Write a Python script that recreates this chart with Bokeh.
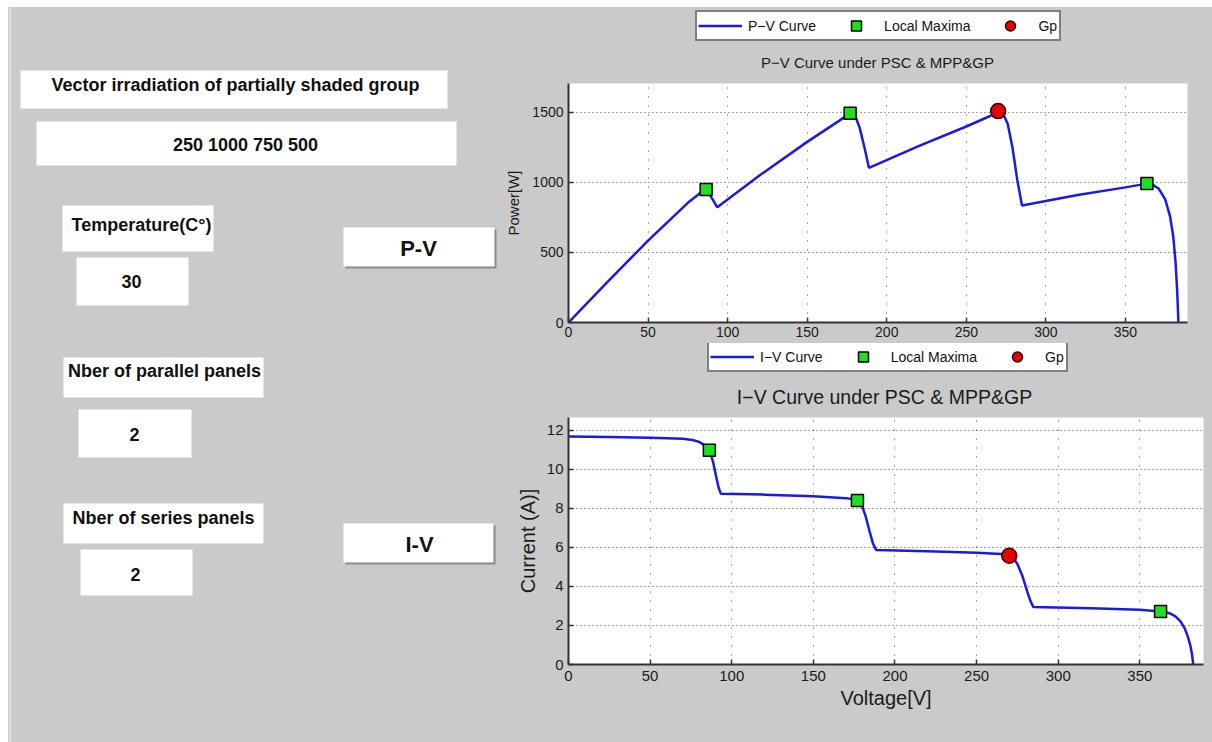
from bokeh.plotting import figure
from bokeh.models import (Range1d, FixedTicker, Legend, LegendItem, Label, Spacer)
from bokeh.layouts import row, column
from bokeh.embed import file_html
from bokeh.resources import INLINE
from bokeh.core.properties import value

# ---------------- data ----------------
pv_voltage = [0, 25, 50, 75, 80, 84, 86.5, 90, 93.5, 120, 150, 170, 177, 180, 183, 186,
              188.8, 220, 250, 265, 270, 273, 276, 279, 282, 285, 320, 350, 363.5, 367,
              371, 375, 378, 380, 381.5, 382.5, 383.3]
pv_power = [0, 295, 585, 855, 900, 935, 950, 890, 823, 1050, 1290, 1440, 1495, 1480, 1390,
            1250, 1105, 1260, 1400, 1475, 1510, 1495, 1420, 1250, 1020, 836, 910, 965, 992,
            985, 955, 880, 760, 620, 430, 230, 0]
pv_max_v = [86.5, 177, 363.5]
pv_max_p = [950, 1495, 992]
pv_gp_v = [270]
pv_gp_p = [1510]

iv_voltage = [0, 25, 50, 70, 76, 80, 83, 86.3, 88.5, 90.5, 92, 93.3, 120, 150, 170, 177,
              179.5, 182, 184.5, 186.5, 188.4, 220, 250, 265, 270, 272.5, 275, 278, 281,
              283, 284.7, 320, 350, 362.7, 366, 369, 372, 375, 377.5, 379.5, 381, 382,
              382.7]
iv_current = [11.68, 11.65, 11.61, 11.56, 11.5, 11.4, 11.25, 10.97, 10.4, 9.6, 9.05, 8.75,
              8.7, 8.62, 8.52, 8.42, 8.2, 7.6, 6.8, 6.2, 5.87, 5.8, 5.72, 5.66, 5.57, 5.45,
              5.15, 4.55, 3.75, 3.25, 2.95, 2.88, 2.8, 2.72, 2.68, 2.6, 2.45, 2.2, 1.85,
              1.4, 0.95, 0.5, 0]
iv_max_v = [86.3, 177, 362.7]
iv_max_i = [10.97, 8.4, 2.72]
iv_gp_v = [270]
iv_gp_i = [5.57]

voltage_ticks = [0, 50, 100, 150, 200, 250, 300, 350]
power_ticks = [0, 500, 1000, 1500]
current_ticks = [0, 2, 4, 6, 8, 10, 12]

legend_pv = ["P\u2212V Curve", "Local Maxima", "Gp"]
legend_iv = ["I\u2212V Curve", "Local Maxima", "Gp"]
title_pv = "P\u2212V Curve under PSC & MPP&GP"
title_iv = "I\u2212V Curve under PSC & MPP&GP"

ui_labels = ["Vector irradiation of partially shaded group", "Temperature(C\u00b0)",
             "Nber of parallel panels", "Nber of series panels"]
ui_values = ["250 1000 750 500", "30", "2", "2"]
ui_buttons = ["P-V", "I-V"]

# ---------------- styles / geometry of the GUI ----------------
GRAY = "#cacaca"
FONT = "Liberation Sans"
BLUE = "#1a1ae0"
GREEN = "#1ee01e"
RED = "#e60000"

label_box = dict(l=[20, 62, 63, 63], r=[447, 213, 263, 263], t=[70, 205, 357, 503],
                 b=[108, 251, 397, 543], tx=[235, 141, 164, 163], ty=[84, 224, 370, 517])
value_box = dict(l=[36, 76, 78, 80], r=[456, 188, 191, 192], t=[121, 257, 409, 549],
                 b=[165, 305, 457, 595], tx=[245, 131, 134, 135], ty=[144, 281, 434, 574])
button_box = dict(l=[343, 343], r=[494, 493], t=[227, 523], b=[266, 562],
                  tx=[418, 419], ty=[248, 544])

# ---------------- left GUI panel ----------------
left = figure(width=492, height=735, x_range=Range1d(8, 500), y_range=Range1d(742, 7),
              x_axis_type=None, y_axis_type=None, toolbar_location=None,
              output_backend="svg", min_border=0, outline_line_color=None,
              background_fill_color=GRAY, border_fill_color=GRAY)
left.grid.visible = False
left.quad(left=[8], right=[11], top=[7], bottom=[742], fill_color="#dadada", line_color=None)

for box, texts in ((label_box, ui_labels), (value_box, ui_values)):
    left.quad(left=box["l"], right=box["r"], top=box["t"], bottom=box["b"],
              fill_color="white", line_color=None)
    left.text(x=box["tx"], y=box["ty"], text=texts, text_align="center",
              text_baseline="middle", text_font=value(FONT), text_font_style="bold",
              text_font_size="18px", text_color="#111111")

left.quad(left=[v + 2 for v in button_box["l"]], right=[v + 2 for v in button_box["r"]],
          top=[v + 2 for v in button_box["t"]], bottom=[v + 2 for v in button_box["b"]],
          fill_color="#8a8a8a", line_color=None)
left.quad(left=button_box["l"], right=button_box["r"], top=button_box["t"],
          bottom=button_box["b"], fill_color="white", line_color=None)
left.text(x=button_box["tx"], y=button_box["ty"], text=ui_buttons, text_align="center",
          text_baseline="middle", text_font=value(FONT), text_font_style="bold",
          text_font_size="22px", text_color="#111111")


# ---------------- plots ----------------
def draw_series(p, xs, ys, mx, my, gx, gy):
    r_line = p.line(xs, ys, line_color=BLUE, line_width=2.5)
    r_sq = p.scatter(mx, my, marker="square", size=12, fill_color=GREEN,
                     line_color="black", line_width=1.5)
    r_gp = p.scatter(gx, gy, marker="circle", size=15, fill_color=RED,
                     line_color="#300000", line_width=1.5)
    return r_line, r_sq, r_gp


def style_plot(p, tick_size, label_size, y_ticks, std_x):
    p.xaxis.ticker = FixedTicker(ticks=voltage_ticks)
    p.yaxis.ticker = FixedTicker(ticks=y_ticks)
    for ax in (p.xaxis[0], p.yaxis[0]):
        ax.axis_line_color = "#333333"
        ax.axis_line_width = 2
        ax.major_tick_line_color = "#333333"
        ax.major_tick_line_width = 1.5
        ax.major_tick_in = 5
        ax.major_tick_out = 0
        ax.minor_tick_in = 0
        ax.minor_tick_out = 0
        ax.major_label_text_font = FONT
        ax.major_label_text_font_size = tick_size
        ax.major_label_text_color = "#1a1a1a"
        ax.axis_label_text_font = FONT
        ax.axis_label_text_font_size = label_size
        ax.axis_label_text_font_style = "normal"
        ax.axis_label_text_color = "#1a1a1a"
    p.xaxis.major_label_standoff = std_x
    p.yaxis.major_label_standoff = 5
    p.xgrid.grid_line_color = "black"
    p.xgrid.grid_line_dash = "1 8"
    p.xgrid.grid_line_alpha = 0.7
    p.ygrid.grid_line_color = "black"
    p.ygrid.grid_line_dash = "1 3"
    p.ygrid.grid_line_alpha = 0.7


def make_header(height, labels, loc, title, title_xy, title_size, series):
    # header strip holding legend and title; its ranges lie far away from the data,
    # so the legend's renderers keep their data but draw nothing in this strip
    h = figure(width=712, height=height, x_range=Range1d(-20, -10),
               y_range=Range1d(-20, -10), x_axis_type=None, y_axis_type=None,
               toolbar_location=None, output_backend="svg", min_border_left=68,
               min_border_right=9, min_border_top=0, min_border_bottom=0,
               outline_line_color=None, background_fill_color=GRAY,
               border_fill_color=GRAY)
    h.grid.visible = False
    r_line, r_sq, r_gp = draw_series(h, *series)
    legend = Legend(items=[LegendItem(label=labels[0], renderers=[r_line]),
                           LegendItem(label=labels[1], renderers=[r_sq]),
                           LegendItem(label=labels[2], renderers=[r_gp])],
                    location=loc, orientation="horizontal", glyph_width=44,
                    glyph_height=25, label_standoff=6, spacing=18, padding=1, margin=0,
                    border_line_color="black", border_line_width=2,
                    background_fill_color="white", background_fill_alpha=1.0,
                    label_text_font=FONT, label_text_font_size="14px",
                    label_text_color="#111111")
    h.add_layout(legend)
    h.add_layout(Label(x=title_xy[0], y=title_xy[1], x_units="screen", y_units="screen",
                       text=title, text_align="center", text_baseline="middle",
                       text_font=FONT, text_font_size=title_size, text_color="#1a1a1a"))
    return h


pv_series = (pv_voltage, pv_power, pv_max_v, pv_max_p, pv_gp_v, pv_gp_p)
iv_series = (iv_voltage, iv_current, iv_max_v, iv_max_i, iv_gp_v, iv_gp_i)

top_header = make_header(76, legend_pv, (127, 42), title_pv, (309, 21), "15px", pv_series)

top = figure(width=696, height=260, x_range=Range1d(0, 389), y_range=Range1d(0, 1707),
             toolbar_location=None, output_backend="svg", min_border_left=68,
             min_border_right=9, min_border_top=0, min_border_bottom=21,
             background_fill_color="white", border_fill_color=GRAY,
             outline_line_color=None, y_axis_label="Power[W]")
style_plot(top, "14px", "15px", power_ticks, 4)
top.yaxis.axis_label_standoff = 7
draw_series(top, *pv_series)

bottom_header = make_header(74, legend_iv, (139, 45), title_iv, (316, 21), "19.5px",
                            iv_series)

bottom = figure(width=712, height=325, x_range=Range1d(0, 389), y_range=Range1d(0, 12.65),
                toolbar_location=None, output_backend="svg", min_border_left=68,
                min_border_right=9, min_border_top=0, min_border_bottom=78,
                background_fill_color="white", border_fill_color=GRAY,
                outline_line_color=None, x_axis_label="Voltage[V]",
                y_axis_label="Current (A)]")
style_plot(bottom, "15px", "20px", current_ticks, 6)
bottom.xaxis.axis_label_standoff = 3
bottom.yaxis.axis_label_standoff = 5
draw_series(bottom, *iv_series)

right_col = column(top_header, top, bottom_header, bottom,
                   styles={"background-color": GRAY})
inner = row(left, right_col, styles={"background-color": GRAY})
layout = column(Spacer(width=1212, height=7), row(Spacer(width=8, height=735), inner))

open("out.html", "w").write(file_html(layout, INLINE))
